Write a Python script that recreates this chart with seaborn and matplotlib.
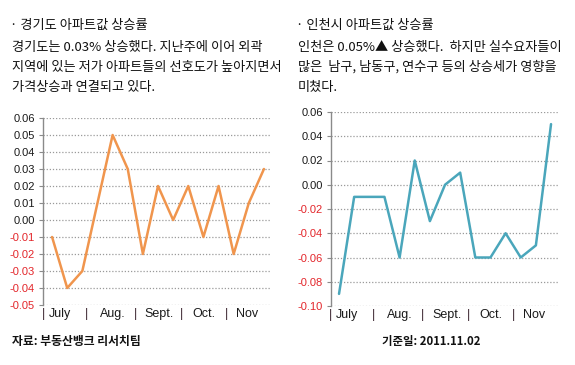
import matplotlib
matplotlib.use("Agg")
import matplotlib.pyplot as plt
import seaborn as sns
import pandas as pd
import numpy as np

# ---- data ----
gyeonggi_values = [-0.01, -0.04, -0.03, 0.01, 0.05, 0.03, -0.02, 0.02, 0.00, 0.02, -0.01, 0.02, -0.02, 0.01, 0.03]
incheon_values = [-0.09, -0.01, -0.01, -0.01, -0.06, 0.02, -0.03, 0.00, 0.01, -0.06, -0.06, -0.04, -0.06, -0.05, 0.05]
month_labels = ["July", "Aug.", "Sept.", "Oct.", "Nov"]
gg_yticks = [-0.05, -0.04, -0.03, -0.02, -0.01, 0.00, 0.01, 0.02, 0.03, 0.04, 0.05, 0.06]
ic_yticks = [-0.10, -0.08, -0.06, -0.04, -0.02, 0.00, 0.02, 0.04, 0.06]

gg_title = "· 경기도 아파트값 상승률"
gg_body = ["경기도는 0.03% 상승했다. 지난주에 이어 외곽",
           "지역에 있는 저가 아파트들의 선호도가 높아지면서",
           "가격상승과 연결되고 있다."]
ic_title = "· 인천시 아파트값 상승률"
ic_body = ["인천은 0.05%▲ 상승했다.  하지만 실수요자들이",
           "많은  남구, 남동구, 연수구 등의 상승세가 영향을",
           "미쳤다."]
source_text = "자료: 부동산뱅크 리서치팀"
date_text = "기준일: 2011.11.02"

# layout constants
label_pos = [0.55, 4.0, 7.1, 10.0, 12.9]
sep_pos = [-0.55, 2.26, 5.54, 8.57, 11.5]

sns.set_theme(style="white")
plt.rcParams["font.family"] = ["Noto Sans CJK KR", "DejaVu Sans"]

W, H = 575, 365
fig = plt.figure(figsize=(W / 100, H / 100), dpi=100)

def px_rect(x0, y0, x1, y1):
    return [x0 / W, 1 - y1 / H, (x1 - x0) / W, (y1 - y0) / H]

ax1 = fig.add_axes(px_rect(43, 118, 270, 305))
ax2 = fig.add_axes(px_rect(331, 112, 558, 306))

def draw(ax, values, color, yticks, xlim, label_y):
    df = pd.DataFrame({"week": np.arange(len(values)), "value": values})
    sns.lineplot(data=df, x="week", y="value", ax=ax, color=color, linewidth=1.8)
    ax.set_xlim(*xlim)
    ax.set_ylim(yticks[0], yticks[-1])
    ax.set_yticks(yticks)
    labels = []
    for v in yticks:
        labels.append(f"{abs(v):.2f}" if abs(v) < 1e-9 else f"{v:.2f}")
    ax.set_yticklabels(labels, fontfamily="Liberation Sans", fontsize=8)
    for t, v in zip(ax.get_yticklabels(), yticks):
        t.set_color("#e3262b" if v < -1e-9 else "#1a1a1a")
    ax.set_xticks([])
    ax.set_xlabel("")
    ax.set_ylabel("")
    ax.grid(axis="y", linestyle=(0, (1, 1.5)), color="#9a9a9a", linewidth=0.9)
    ax.set_axisbelow(True)
    for s in ["top", "right", "bottom"]:
        ax.spines[s].set_visible(False)
    ax.spines["left"].set_color("#8a8a8a")
    ax.spines["left"].set_linewidth(1.0)
    ax.tick_params(axis="y", which="major", length=3, width=0.8, color="#8a8a8a",
                   pad=3, left=True)
    tr = ax.get_xaxis_transform()
    for x, lab in zip(label_pos, month_labels):
        ax.text(x, label_y, lab, transform=tr, ha="center", va="center",
                fontsize=9, fontfamily="Liberation Sans", color="#1a1a1a", clip_on=False)
    for x in sep_pos:
        ax.text(x, label_y, "|", transform=tr, ha="center", va="center",
                fontsize=9, fontfamily="Liberation Sans", color="#3b2530", clip_on=False)

draw(ax1, gyeonggi_values, "#f0954d", gg_yticks, (-0.6, 14.4), -0.048)
draw(ax2, incheon_values, "#4aa6bb", ic_yticks, (-0.53, 14.46), -0.046)

def ftext(x, y, s, **kw):
    fig.text(x / W, 1 - y / H, s, va="center", ha="left", **kw)

ftext(10, 25, gg_title, fontsize=9.5, fontweight="medium", color="#111111")
for i, line in enumerate(gg_body):
    ftext(12, 48 + 20 * i, line, fontsize=9.5, fontweight="medium", color="#111111")
ftext(296, 25, ic_title, fontsize=9.5, fontweight="medium", color="#111111")
for i, line in enumerate(ic_body):
    ftext(298, 47 + 20 * i, line, fontsize=9.5, fontweight="medium", color="#111111")

ftext(12, 342, source_text, fontsize=8.5, fontweight="bold", color="#111111")
ftext(382, 342, date_text, fontsize=8.2, fontweight="bold", color="#111111")

fig.savefig("out.png", dpi=100, facecolor="white")
